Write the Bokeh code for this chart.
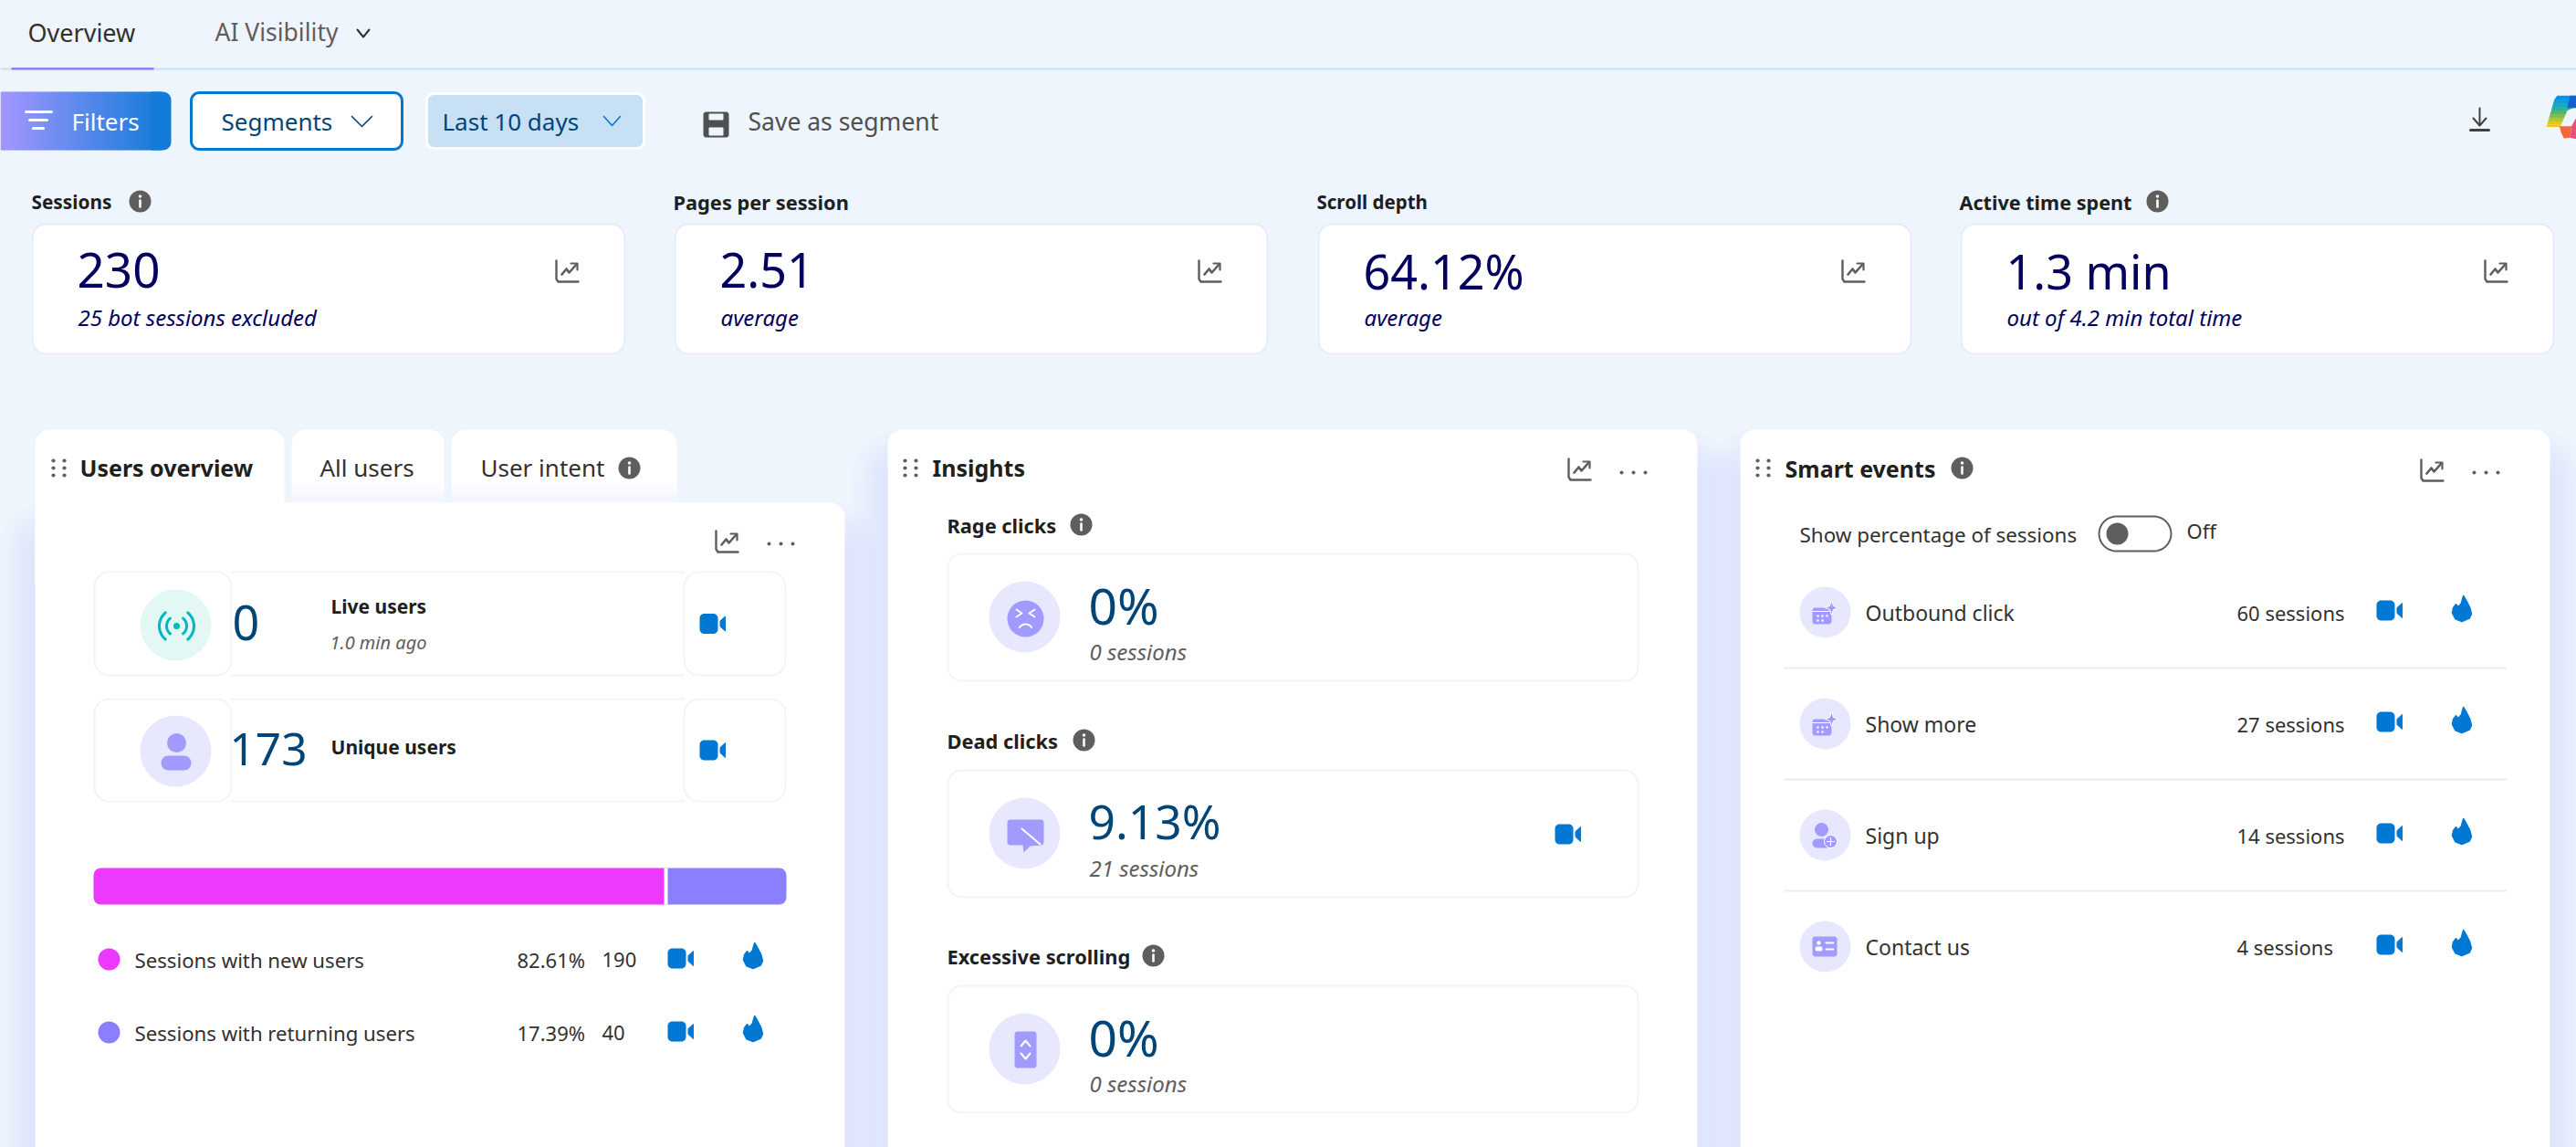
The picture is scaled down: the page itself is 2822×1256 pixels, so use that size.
import numpy as np
from bokeh.core.properties import value
from bokeh.embed import file_html
from bokeh.models import Range1d
from bokeh.plotting import figure
from bokeh.resources import INLINE

# ---------- data ----------
TABS_TOP = ["Overview", "AI Visibility"]
METRIC_NAMES = ["Sessions", "Pages per session", "Scroll depth", "Active time spent"]
METRIC_VALUES = ["230", "2.51", "64.12%", "1.3 min"]
METRIC_NOTES = ["25 bot sessions excluded", "average", "average", "out of 4.2 min total time"]
USER_LABELS = ["Live users", "Unique users"]
USER_COUNTS = [0, 173]
SEGMENT_NAMES = ["Sessions with new users", "Sessions with returning users"]
SEGMENT_SHARE = [82.61, 17.39]
SEGMENT_SESSIONS = [190, 40]
INSIGHT_NAMES = ["Rage clicks", "Dead clicks", "Excessive scrolling"]
INSIGHT_SHARE = ["0%", "9.13%", "0%"]
INSIGHT_SESSIONS = [0, 21, 0]
EVENT_NAMES = ["Outbound click", "Show more", "Sign up", "Contact us"]
EVENT_SESSIONS = [60, 27, 14, 4]

# ---------- style ----------
BG = "#eff5fd"
FONT = value("Noto Sans")
NAVY = "#03005f"
DEEP = "#004578"
INK = "#201f1e"
BODY = "#323130"
GREY = "#605e5c"
BLUE = "#0078d4"
LILAC = "#a19bff"
HALO = "#e7e8fd"
EDGE = "#f1f4fc"
PINK = "#ec38ff"
VIOLET = "#8a80ff"

W, H = 2822, 1256
p = figure(width=W, height=H, x_range=Range1d(0, W), y_range=Range1d(H, 0),
           output_backend="svg", toolbar_location=None, min_border=0,
           background_fill_color=BG, border_fill_color=BG, outline_line_color=None)
p.axis.visible = False
p.grid.visible = False

BAR_L, BAR_R = 102, 861
unit = (BAR_R - BAR_L) / 100
p.extra_x_ranges["share"] = Range1d(-BAR_L / unit, (W - BAR_L) / unit)


def t(x, y, s, size, color=BODY, style="normal", align="left"):
    p.text(x=[x], y=[y - 1.5], text=[s], text_font=FONT, text_font_size=f"{size}px", text_color=color,
           text_font_style=style, text_align=align, text_baseline="middle")


def rr_points(x0, y0, x1, y1, r):
    if np.isscalar(r):
        r = (r, r, r, r)
    xs, ys = [], []
    corners = [(x0 + r[0], y0 + r[0], r[0], 180), (x1 - r[1], y0 + r[1], r[1], 270),
               (x1 - r[2], y1 - r[2], r[2], 0), (x0 + r[3], y1 - r[3], r[3], 90)]
    for cx, cy, rad, a in corners:
        ang = np.radians(np.linspace(a, a + 90, 9))
        xs += list(cx + rad * np.cos(ang))
        ys += list(cy + rad * np.sin(ang))
    return xs, ys


def rr(x0, y0, x1, y1, r, fill="white", line=None, lw=2, alpha=1.0):
    xs, ys = rr_points(x0, y0, x1, y1, r)
    p.patch(xs, ys, fill_color=fill, fill_alpha=alpha, line_color=line, line_width=lw)


def ln(xs, ys, color=GREY, w=2.5):
    p.line(xs, ys, line_color=color, line_width=w, line_cap="round", line_join="round")


def dot(x, y, r, color):
    p.circle(x=[x], y=[y], radius=r, fill_color=color, line_color=None)


def arc_pts(cx, cy, r, a0, a1):
    a = np.radians(np.linspace(a0, a1, 16))
    return cx + r * np.cos(a), cy + r * np.sin(a)


def info(x, y):
    dot(x, y, 12, GREY)
    dot(x, y - 5.5, 1.8, "white")
    ln([x, x], [y - 1, y + 6], "white", 2.6)


def grip(x, y):
    for dx in (0, 12):
        for dy in (-8, 0, 8):
            dot(x + dx, y + dy, 2.1, GREY)


def more(x, y):
    for dx in (0, 13, 26):
        dot(x + dx, y, 2, GREY)


def chart_icon(x, y, color=GREY, s=1.0):
    ln([x, x, x + 2 * s, x + 24 * s], [y, y + 20 * s, y + 23 * s, y + 23 * s], color, 2.4)
    ln([x + 6 * s, x + 11 * s, x + 14 * s, x + 22 * s], [y + 15 * s, y + 9 * s, y + 13 * s, y + 4 * s], color, 2.6)
    ln([x + 16 * s, x + 23 * s, x + 23 * s], [y + 3 * s, y + 3 * s, y + 10 * s], color, 2.2)


def video(x, y):
    rr(x, y, x + 20, y + 22, 5, BLUE)
    p.patch([x + 22.5, x + 28, x + 28, x + 22.5], [y + 8, y + 3, y + 19, y + 14], fill_color=BLUE, line_color=BLUE, line_width=1)


FLAME_U = [.58, .73, .92, 1, .89, .5, .16, 0, .05, .19, .3, .47, .53]
FLAME_V = [0, .18, .47, .7, .88, 1, .9, .67, .47, .33, .44, .29, .12]


def flame(x, y):
    p.patch([x + 21 * u for u in FLAME_U], [y + 28 * v for v in FLAME_V], fill_color=BLUE, line_color=BLUE, line_width=1.5, line_join="round")


def chevron(x0, x1, y0, y1, color, w=1.6):
    ln([x0, (x0 + x1) / 2, x1], [y0, y1, y0], color, w)


def shadow(x0, y0, x1, y1):
    for k in range(8, 0, -1):
        e = k * 5
        rr(x0 - e, y0 + 40 - e, x1 + e, y1 + e, 14 + e, "#6f7fe8", None, alpha=0.0105)


def cal_icon(cy):
    rr(1985, cy - 5, 2006, cy + 13, 3, LILAC)
    ln([1985, 2006], [cy - 1, cy - 1], "white", 1.2)
    for dx in (1991, 1996, 2001):
        dot(dx, cy + 4, 1.2, "white")
    for dx in (1991, 1996):
        dot(dx, cy + 9, 1.2, "white")
    sx, sy = 2006, cy - 5
    p.patch([sx, sx + 2, sx + 7, sx + 2, sx, sx - 2, sx - 7, sx - 2],
            [sy - 8, sy - 2, sy, sy + 2, sy + 8, sy + 2, sy, sy - 2],
            fill_color=LILAC, line_color="white", line_width=1)


# ---------- top navigation ----------
p.quad(left=[0], right=[W], top=[74], bottom=[76], fill_color="#c7e0f4", line_color=None)
p.quad(left=[12], right=[168], top=[73.5], bottom=[76], fill_color=VIOLET, line_color=None)
t(30, 36, TABS_TOP[0], 27, BODY)
t(235, 36, TABS_TOP[1], 26.5, GREY)
chevron(391, 404, 32, 40, BODY, 2)

edges = np.linspace(0, 176, 89)
c0, c1 = np.array([0xa3, 0x97, 0xff]), np.array([0x00, 0x78, 0xd4])
cols = ["#%02x%02x%02x" % tuple((c0 + (c1 - c0) * (i / 100)).astype(int)) for i in range(89)]
p.quad(left=edges[:-1], right=edges[1:] + .6, top=[100] * 88, bottom=[164] * 88, fill_color=cols[:88], line_color=None)
rr(165, 100, 187, 164, (0, 9, 9, 0), cols[88])
for x0, x1, y in ((28, 56, 122), (32, 51, 131), (36, 47, 140)):
    ln([x0, x1], [y, y], "white", 3)
t(78, 134, "Filters", 26, "white")

rr(209, 101, 440, 163, 9, "white", BLUE, 3)
t(242, 134, "Segments", 26, DEEP)
chevron(385, 407, 127, 138, DEEP)

rr(467, 102, 705, 162, 8, "#c7e0f4", "white", 3)
t(484, 134, "Last 10 days", 26, DEEP)
chevron(661, 679, 127, 137, BLUE)

rr(770, 122, 798, 150, 3, "#505050")
rr(776, 124, 792, 131, 1, BG)
rr(776, 139, 792, 148, 1, BG)
t(819, 134, "Save as segment", 26.5, "#505050")

ln([2716, 2716], [118, 136], "#404040", 2)
ln([2709, 2716, 2723], [129, 137, 129], "#404040", 2)
ln([2706, 2726], [142, 142], "#404040", 3)


def cop(us, vs, color):
    p.patch([2760 + u / 3 for u in us], [95 + v / 3 for v in vs], fill_color=color, line_color=None)


COP_VS = [28, 40, 52, 64, 76, 88, 100, 112, 122, 130]
COP_COL = ["#0a8fe6", "#0e9ce0", "#17a8c8", "#2cb0a0", "#4cb578", "#7cbc52", "#b0c438", "#dcc820", "#f5c414"]
for i in range(9):
    va, vb = COP_VS[i], COP_VS[i + 1] + .5
    la, lb = 92 + (115 - va) * 23 / 80, 92 + (115 - vb) * 23 / 80
    ra = 185 if va < 66 else 160 - (va - 68) * 25 / 57
    rb = 185 if vb < 66 else 160 - (vb - 68) * 25 / 57
    cop([la + (6 if i == 0 else 0), ra, rb, lb], [va, va, vb, vb], COP_COL[i])
cop([165, 185, 185, 155], [28, 28, 68, 68], "#1560d0")
cop([130, 170, 165, 145, 136], [128, 128, 166, 168, 150], "#f2683a")
cop([170, 185, 185, 165], [128, 100, 170, 166], "#e8507c")

# ---------- metric cards ----------
CARD_X = [35, 739, 1444, 2148]
CARD_W = 649
INFO_AT = {0: 153, 3: 2363}
LABEL_SIZE = [20.8, 21.8, 20.5, 21.6]
for i, cx in enumerate(CARD_X):
    rr(cx, 245, cx + CARD_W, 387, 15, "white", "#e8ecfb", 2)
    t(CARD_X[i] - 2 + (1 if i == 0 else 0), 222, METRIC_NAMES[i], LABEL_SIZE[i], INK, "bold")
    t(cx + 49, 297, METRIC_VALUES[i], 53 if i == 0 else 52, NAVY)
    t(cx + 50, 348, METRIC_NOTES[i], 24, NAVY, "italic")
    chart_icon(cx + 574, 285)
    if i in INFO_AT:
        info(INFO_AT[i], 220)

# ---------- panels ----------
shadow(38, 550, 925, 1400)
shadow(972, 470, 1859, 1400)
shadow(1906, 470, 2793, 1400)

# users overview
for x0, x1 in ((319, 486), (494, 741)):
    rr(x0, 470, x1, 600, (16, 16, 0, 0), "white")
    for k, a in enumerate((.18, .34, .5, .66)):
        p.quad(left=[x0], right=[x1], top=[528 + k * 5.5], bottom=[533.5 + k * 5.5], fill_color="#eef2fd", fill_alpha=a, line_color=None)
rr(38, 470, 311, 640, (16, 16, 0, 0), "white")
rr(38, 550, 925, 1400, (0, 16, 0, 0), "white")
grip(58, 512)
t(87, 513, "Users overview", 25, INK, "bold")
t(350, 513, "All users", 26, BODY)
t(526, 513, "User intent", 26, BODY)
info(689, 512)
chart_icon(784, 581)
more(842, 595)

for (y0, y1, val, vx, sz) in ((626, 739, USER_COUNTS[0], 254, 52), (765, 877, USER_COUNTS[1], 251, 49.5)):
    rr(103, y0, 253, y1, 16, "white", EDGE, 2)
    rr(749, y0, 860, y1, 16, "white", EDGE, 2)
    ln([253, 749], [y0, y0], EDGE, 2)
    ln([253, 749], [y1, y1], EDGE, 2)
    cy = (y0 + y1) / 2
    t(vx, cy, str(val), sz, DEEP)
    video(766, cy - 11)

t(362, 665, USER_LABELS[0], 21, INK, "bold")
t(361, 704, "1.0 min ago", 20, GREY, "italic")
t(362, 819, USER_LABELS[1], 21, INK, "bold")
dot(192, 684, 39, "#e3f7f5")
TEAL = "#00b7c3"
dot(193, 685, 3.5, TEAL)
for r, wid in ((11, 3), (19, 3)):
    for a0, a1 in ((-50, 50), (130, 230)):
        xs_, ys_ = arc_pts(193, 685, r, a0, a1)
        ln(xs_, ys_, TEAL, wid)
dot(192, 822, 39, HALO)
dot(193, 813, 10.5, LILAC)
rr(176, 827, 209, 843, 8, LILAC)

# stacked bar
stack = np.cumsum(SEGMENT_SHARE)
p.quad(left=[0], right=[stack[0]], top=[950], bottom=[990], fill_color=PINK, line_color=None,
       x_range_name="share", border_radius=(8, 0, 0, 8))
p.quad(left=[stack[0]], right=[stack[1]], top=[950], bottom=[990], fill_color=VIOLET, line_color=None,
       x_range_name="share", border_radius=(0, 8, 8, 0))
p.segment(x0=[stack[0]], x1=[stack[0]], y0=[950], y1=[990], line_color="white", line_width=4, x_range_name="share")

for i, (yc, col) in enumerate(((1050, PINK), (1130, VIOLET))):
    dot(119, yc, 12, col)
    t(147, yc + 2, SEGMENT_NAMES[i], 22.2, BODY)
    t(566, yc + 2, f"{SEGMENT_SHARE[i]:.2f}%", 22, BODY)
    t(659, yc + 2, str(SEGMENT_SESSIONS[i]), 22, BODY)
    video(731, yc - 12)
    flame(814, yc - 18)

# insights
rr(972, 470, 1859, 1400, 16, "white")
grip(991, 512)
t(1021, 513, "Insights", 25, INK, "bold")
chart_icon(1718, 502)
more(1776, 517)
for i, (lab_y, top) in enumerate(((576, 606), (812, 843), (1048, 1079))):
    t(1037, lab_y, INSIGHT_NAMES[i], 21.8, INK, "bold")
    info({0: 1184, 1: 1187, 2: 1263}[i], lab_y - 2)
    rr(1038, top, 1794, top + 139, 15, "white", EDGE, 2)
    dot(1122, top + 69, 39, HALO)
    t(1192, top + 57, INSIGHT_SHARE[i], 55 if i != 1 else 51.5, DEEP)
    t(1193, top + 108, f"{INSIGHT_SESSIONS[i]} sessions", 24, GREY, "italic")
video(1703, 902)

# rage face
dot(1123, 677, 20, LILAC)
ln([1113, 1119, 1113], [667, 671, 675], "white", 2)
ln([1133, 1127, 1133], [667, 671, 675], "white", 2)
xs_, ys_ = arc_pts(1123, 691, 8, 215, 325)
ln(xs_, ys_, "white", 2)
# dead click
rr(1103, 897, 1143, 925, 3, LILAC)
p.patch([1118, 1121, 1128, 1140], [907, 933, 926, 925], fill_color=LILAC, line_color=None)
ln([1119, 1139], [907, 924], "white", 2)
# excessive scrolling
rr(1111, 1129, 1135, 1169, 3, LILAC)
chevron(1118, 1128, 1145, 1139, "white", 2)
chevron(1118, 1128, 1153, 1159, "white", 2)

# smart events
rr(1906, 470, 2793, 1400, 16, "white")
grip(1925, 512)
t(1955, 514, "Smart events", 25, INK, "bold")
info(2149, 512)
chart_icon(2652, 503)
more(2710, 517)
t(1971, 586, "Show percentage of sessions", 22.4, BODY)
rr(2299, 565, 2378, 603, 19, "white", GREY, 2)
dot(2319, 584, 12, GREY)
t(2395, 582, "Off", 22, BODY)

ROW_Y = [670, 792, 914, 1036]
for i, yc in enumerate(ROW_Y):
    dot(1999, yc, 28, HALO)
    t(2043, yc + 2, EVENT_NAMES[i], 23, BODY)
    t(2450, yc + 2, f"{EVENT_SESSIONS[i]} sessions", 22, BODY)
    video(2603, yc - 13)
    flame(2686, yc - 18)
    if i < 3:
        ln([1955, 2745], [yc + 61, yc + 61], "#ebebeb", 2)

cal_icon(ROW_Y[0])
cal_icon(ROW_Y[1])
# sign up
dot(1995, 908, 7.5, LILAC)
rr(1985, 918, 2006, 928, 5, LILAC)
p.circle(x=[2005], y=[921], radius=7, fill_color=LILAC, line_color="white", line_width=1)
ln([2005, 2005], [917, 925], "white", 1.2)
ln([2001, 2009], [921, 921], "white", 1.2)
# contact
rr(1985, 1025, 2012, 1047, 3, LILAC)
dot(1992, 1032, 2.2, "white")
rr(1988, 1036, 1996, 1041, 2, "white")
ln([2000, 2008], [1032, 1032], "white", 2)
ln([2000, 2008], [1039, 1039], "white", 2)

html = file_html(p, INLINE)
html = html.replace("<head>", f"<head><style>html,body{{background:{BG}}}</style>", 1)
open("out.html", "w").write(html)
